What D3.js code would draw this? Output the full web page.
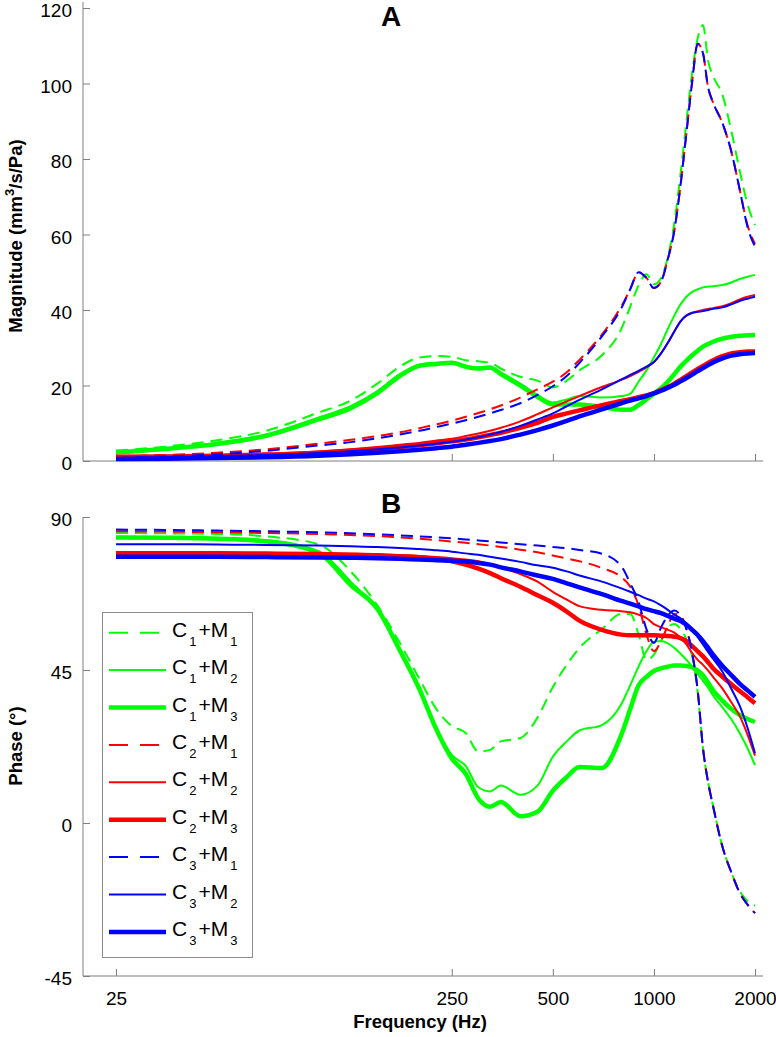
<!DOCTYPE html>
<html>
<head>
<meta charset="utf-8">
<script src="https://cdn.jsdelivr.net/npm/d3@7"></script>
<style>
body { margin: 0; background: #fff; }
text { font-family: "Liberation Sans", Arial, Helvetica, sans-serif; }
</style>
</head>
<body>
<svg width="776" height="1037"></svg>
<script>
// frequency grid (Hz)
var freq = [25, 35, 50, 70, 100, 125, 150, 175, 200, 225, 250, 275, 300, 325, 350, 400, 450, 500, 550, 600,
            700, 800, 850, 900, 950, 1000, 1050, 1100, 1150, 1200, 1250, 1300, 1350, 1400, 1450, 1500,
            1600, 1700, 1800, 1900, 2000];

// panel A, magnitude (mm^3/s/Pa)
var magC1M1 = [2.8, 3.8, 5.5, 8.0, 12.8, 16.0, 20.5, 25.0, 27.4, 27.8, 27.6, 26.7, 26.4, 26.0, 24.5, 22.3, 21.3, 19.5, 21.3, 24.0,
               28.0, 35.0, 40.9, 46.5, 49.5, 46.8, 48.5, 54.0, 63.0, 76.0, 90.0, 103.0, 112.0, 115.5, 106.0, 102.0,
               97.0, 87.5, 77.0, 68.0, 62.5];
var magC1M2 = [2.5, 3.4, 4.8, 7.0, 11.5, 14.5, 18.5, 23.0, 25.5, 26.0, 26.2, 25.0, 24.8, 25.0, 23.5, 20.5, 17.5, 15.5, 16.3, 17.2,
               16.8, 17.2, 17.8, 21.0, 24.0, 27.5, 31.0, 35.0, 38.5, 41.5, 43.5, 44.8, 45.5, 46.0, 46.2, 46.3,
               46.6, 47.3, 48.2, 48.8, 49.3];
var magC1M3 = [2.3, 3.2, 4.5, 6.7, 11.0, 14.0, 18.0, 22.5, 25.2, 25.7, 26.0, 25.0, 24.5, 24.8, 23.0, 20.0, 17.0, 15.0, 15.0, 15.0,
               14.3, 13.6, 13.6, 14.8, 16.3, 17.8, 19.3, 21.0, 23.0, 25.0, 26.6, 28.0, 29.2, 30.3, 31.0, 31.6,
               32.4, 32.9, 33.2, 33.3, 33.4];
var magC2M1 = [1.2, 1.6, 2.2, 3.1, 4.6, 5.6, 6.6, 7.6, 8.7, 9.7, 10.7, 11.7, 12.7, 13.7, 14.7, 16.8, 19.0, 21.0, 23.5, 26.8,
               33.5, 41.0, 45.5, 50.0, 48.5, 45.8, 47.5, 53.5, 61.0, 73.0, 87.0, 100.5, 110.5, 108.0, 99.0, 95.0,
               89.5, 82.0, 72.0, 62.5, 57.5];
var magC2M2 = [1.0, 1.2, 1.5, 1.9, 2.5, 3.1, 3.7, 4.3, 4.8, 5.4, 5.9, 6.6, 7.3, 8.0, 8.8, 10.5, 12.4, 14.2, 15.8, 17.2,
               19.6, 21.5, 22.5, 23.6, 24.8, 26.2, 28.5, 31.3, 34.3, 37.0, 38.6, 39.3, 39.7, 40.0, 40.3, 40.5,
               41.0, 41.8, 42.8, 43.5, 44.0];
var magC2M3 = [1.1, 1.2, 1.4, 1.7, 2.2, 2.7, 3.2, 3.7, 4.2, 4.7, 5.2, 5.7, 6.3, 6.9, 7.5, 8.8, 10.1, 11.7, 12.6, 13.4,
               14.8, 15.9, 16.4, 16.9, 17.4, 18.0, 18.8, 19.6, 20.5, 21.5, 22.5, 23.5, 24.4, 25.2, 26.0, 26.7,
               27.8, 28.5, 28.8, 29.0, 29.0];
var magC3M1 = [0.8, 1.2, 1.8, 2.7, 4.1, 5.0, 6.0, 7.0, 8.0, 9.0, 9.9, 10.8, 11.7, 12.6, 13.5, 15.3, 17.5, 19.8, 22.5, 26.0,
               33.0, 40.5, 45.5, 50.0, 48.5, 45.8, 47.5, 53.5, 61.0, 73.0, 87.0, 100.5, 110.5, 108.0, 99.0, 95.0,
               89.5, 82.0, 72.0, 62.0, 56.8];
var magC3M2 = [0.8, 1.0, 1.3, 1.6, 2.1, 2.6, 3.1, 3.6, 4.1, 4.6, 5.1, 5.7, 6.3, 7.0, 7.7, 9.3, 11.0, 12.6, 14.5, 16.2,
               19.0, 21.6, 22.8, 23.9, 25.0, 26.2, 28.5, 31.3, 34.3, 37.0, 38.5, 39.2, 39.5, 39.7, 40.0, 40.3,
               40.7, 41.5, 42.4, 43.0, 43.5];
var magC3M3 = [0.5, 0.6, 0.8, 1.0, 1.4, 1.8, 2.2, 2.6, 3.0, 3.4, 3.8, 4.3, 4.8, 5.3, 5.8, 7.0, 8.2, 9.4, 10.6, 11.8,
               13.7, 15.3, 16.0, 16.6, 17.2, 17.9, 18.6, 19.4, 20.2, 21.1, 22.0, 22.9, 23.8, 24.6, 25.4, 26.1,
               27.2, 27.9, 28.3, 28.5, 28.6];

// panel B, phase (degrees)
var phaC1M1 = [85.3, 85.2, 85.0, 84.3, 82.0, 74.0, 64.0, 53.0, 42.5, 33.5, 28.5, 26.5, 21.0, 21.5, 24.0, 25.0, 31.0, 40.0, 46.5, 51.5,
               57.0, 61.5, 61.5, 55.5, 48.0, 49.5, 53.5, 57.5, 58.5, 57.0, 54.0, 49.0, 38.5, 22.0, 12.0, 5.0,
               -7.0, -14.5, -20.0, -23.0, -24.3];
var phaC1M2 = [84.2, 84.1, 83.9, 83.2, 80.0, 71.0, 62.5, 51.0, 39.0, 27.5, 20.0, 16.8, 10.5, 9.3, 11.0, 8.3, 11.0, 19.5, 24.0, 27.2,
               28.8, 35.0, 40.5, 46.0, 50.5, 53.3, 53.5, 52.8, 51.5, 49.8, 48.0, 46.0, 43.8, 41.8, 39.8, 37.5,
               34.0, 30.5, 26.5, 22.0, 17.0];
var phaC1M3 = [84.0, 83.9, 83.6, 82.8, 79.5, 70.0, 63.0, 50.8, 39.5, 27.5, 19.0, 14.5, 7.2, 4.8, 6.2, 2.0, 3.3, 9.5, 13.5, 16.5,
               16.2, 26.0, 33.5, 40.5, 43.0, 44.7, 45.5, 46.0, 46.3, 46.3, 46.2, 45.8, 44.8, 43.5, 41.3, 39.0,
               36.0, 33.5, 31.8, 30.6, 29.7];
var phaC2M1 = [85.8, 85.7, 85.5, 85.3, 85.0, 84.7, 84.4, 84.0, 83.6, 83.2, 82.8, 82.4, 82.0, 81.6, 81.2, 80.4, 79.6, 78.7, 77.8, 77.0,
               75.0, 72.3, 69.5, 64.0, 55.5, 50.5, 53.5, 58.0, 61.5, 61.0, 57.0, 50.0, 39.0, 22.0, 12.0, 5.0,
               -7.0, -14.5, -20.5, -24.0, -26.5];
var phaC2M2 = [79.7, 79.7, 79.7, 79.6, 79.5, 79.3, 79.1, 78.8, 78.5, 78.2, 77.9, 77.5, 77.0, 76.2, 75.2, 73.2, 71.0, 68.0, 65.7, 63.8,
               62.7, 62.3, 62.0, 61.3, 60.3, 58.5, 57.6, 56.8, 56.0, 54.5, 52.5, 50.0, 48.0, 46.5, 44.8, 43.0,
               39.5, 35.5, 31.5, 26.0, 19.8];
var phaC2M3 = [79.2, 79.2, 79.1, 79.0, 78.9, 78.8, 78.6, 78.4, 78.2, 77.7, 77.0, 76.0, 74.8, 73.5, 72.0, 69.5, 67.0, 64.8, 62.2, 59.5,
               56.8, 55.4, 55.2, 55.2, 55.2, 55.2, 55.1, 55.0, 54.8, 54.4, 53.5, 52.0, 50.5, 49.0, 47.3, 45.5,
               43.0, 40.8, 38.8, 37.0, 35.2];
var phaC3M1 = [86.3, 86.2, 86.0, 85.8, 85.5, 85.2, 84.9, 84.6, 84.3, 84.0, 83.7, 83.4, 83.1, 82.8, 82.5, 82.0, 81.6, 81.2, 80.8, 80.3,
               79.2, 75.5, 70.5, 65.0, 57.0, 53.0, 57.5, 61.0, 62.5, 61.0, 57.0, 50.0, 39.0, 22.0, 12.0, 5.0,
               -7.0, -14.5, -20.5, -24.0, -26.5];
var phaC3M2 = [82.0, 82.0, 81.9, 81.8, 81.6, 81.4, 81.2, 80.9, 80.6, 80.2, 79.8, 79.3, 78.9, 78.3, 77.8, 76.8, 75.8, 75.1, 74.0, 72.8,
               71.0, 69.0, 68.0, 67.0, 66.0, 65.2, 64.0, 62.7, 61.3, 60.2, 58.7, 57.0, 54.7, 52.5, 50.3, 48.3,
               44.5, 39.5, 34.5, 28.0, 20.5];
var phaC3M3 = [78.3, 78.3, 78.3, 78.2, 78.1, 78.0, 77.9, 77.7, 77.5, 77.3, 77.1, 76.9, 76.5, 76.0, 75.2, 74.0, 72.8, 71.8, 70.5, 69.3,
               67.3, 65.3, 64.5, 63.7, 62.9, 62.3, 61.7, 60.9, 60.1, 59.4, 58.3, 56.8, 55.3, 53.5, 51.5, 49.5,
               46.2, 43.5, 41.0, 39.0, 37.1];

var caseIds = ["1", "2", "3"];
var modelIds = ["1", "2", "3"];
var xTicks = [25, 250, 500, 1000, 2000];
var magTicks = [0, 20, 40, 60, 80, 100, 120];
var phaTicks = [-45, 0, 45, 90];

var magnitude = {
  "11": magC1M1, "12": magC1M2, "13": magC1M3,
  "21": magC2M1, "22": magC2M2, "23": magC2M3,
  "31": magC3M1, "32": magC3M2, "33": magC3M3
};
var phase = {
  "11": phaC1M1, "12": phaC1M2, "13": phaC1M3,
  "21": phaC2M1, "22": phaC2M2, "23": phaC2M3,
  "31": phaC3M1, "32": phaC3M2, "33": phaC3M3
};

var caseColor = {"1": "#00ff00", "2": "#ff0000", "3": "#0000ff"};
var modelWidth = {"1": 2, "2": 2, "3": 4.5};
var modelDash = {"1": "12,7", "2": null, "3": null};

var svg = d3.select("svg");
var axisColor = "#7f7f7f";
var plainNum = function(d) { return String(d); };   // hyphen minus like the original

var x = d3.scaleLog().domain([25, 2000]).range([116, 755]);
var yMag = d3.scaleLinear().domain([0, 120]).range([461, 8]);
var yPha = d3.scaleLinear().domain([-45, 90]).range([976, 517]);

function panel(y, ticks, data, yTop, showXLabels, title, titleY) {
  var g = svg.append("g");
  var y0 = y.range()[0];

  // axes lines
  g.append("line").attr("x1", 83).attr("x2", 763).attr("y1", y0).attr("y2", y0)
    .attr("stroke", axisColor);
  g.append("line").attr("x1", 83).attr("x2", 83).attr("y1", yTop).attr("y2", y0)
    .attr("stroke", axisColor);

  var ya = g.append("g").attr("transform", "translate(83,0)")
    .call(d3.axisLeft(y).tickValues(ticks).tickSize(-7).tickSizeOuter(0).tickPadding(11)
      .tickFormat(plainNum));
  ya.select(".domain").remove();
  ya.selectAll(".tick line").attr("stroke", axisColor);
  ya.selectAll(".tick text").attr("font-size", 19).attr("fill", "#000").attr("dy", "0.45em")
    .attr("font-family", "Liberation Sans, Arial, sans-serif");

  var xa = g.append("g").attr("transform", "translate(0," + y0 + ")")
    .call(d3.axisBottom(x).tickValues(xTicks).tickSize(-7).tickSizeOuter(0).tickPadding(16)
      .tickFormat(showXLabels ? plainNum : ""));
  xa.select(".domain").remove();
  xa.selectAll(".tick line").attr("stroke", axisColor);
  xa.selectAll(".tick text").attr("font-size", 19).attr("fill", "#000")
    .attr("font-family", "Liberation Sans, Arial, sans-serif");

  var line = d3.line()
    .x(function(d) { return x(d[0]); })
    .y(function(d) { return y(d[1]); })
    .curve(d3.curveMonotoneX);

  caseIds.forEach(function(c) {
    modelIds.forEach(function(m) {
      var pts = freq.map(function(f, i) { return [f, data[c + m][i]]; });
      g.append("path")
        .attr("d", line(pts))
        .attr("fill", "none")
        .attr("stroke", caseColor[c])
        .attr("stroke-width", modelWidth[m])
        .attr("stroke-dasharray", modelDash[m])
        .attr("stroke-linejoin", "round");
    });
  });

  g.append("text").attr("x", 391).attr("y", titleY).attr("text-anchor", "middle")
    .attr("font-size", 28).attr("font-weight", "bold").text(title);
  return g;
}

panel(yMag, magTicks, magnitude, 2, false, "A", 26);
panel(yPha, phaTicks, phase, 517, true, "B", 513);

// axis titles
var magLabel = svg.append("text")
  .attr("transform", "translate(22,236) rotate(-90)")
  .attr("text-anchor", "middle").attr("font-size", 18.5).attr("font-weight", "bold");
magLabel.append("tspan").text("Magnitude (mm");
magLabel.append("tspan").attr("font-size", 13).attr("dy", -8).text("3");
magLabel.append("tspan").attr("dy", 8).text("/s/Pa)");

svg.append("text")
  .attr("transform", "translate(22,746) rotate(-90)")
  .attr("text-anchor", "middle").attr("font-size", 18.5).attr("font-weight", "bold")
  .text("Phase (\u00b0)");

svg.append("text").attr("x", 420).attr("y", 1028).attr("text-anchor", "middle")
  .attr("font-size", 18.5).attr("font-weight", "bold").text("Frequency (Hz)");

// legend
var lg = svg.append("g");
lg.append("rect").attr("x", 102.5).attr("y", 612.5).attr("width", 150).attr("height", 345)
  .attr("fill", "#fff").attr("stroke", "#8c8c8c");

var row = 0;
caseIds.forEach(function(c) {
  modelIds.forEach(function(m) {
    var ly = 632.7 + row * 37.4;
    lg.append("line").attr("x1", 109).attr("x2", 166).attr("y1", ly).attr("y2", ly)
      .attr("stroke", caseColor[c]).attr("stroke-width", modelWidth[m] === 2 ? 2 : 4.5)
      .attr("stroke-dasharray", modelDash[m] ? "19,12" : null);
    var t = lg.append("text").attr("x", 172).attr("y", ly + 4).attr("font-size", 21);
    t.append("tspan").text("C");
    t.append("tspan").attr("font-size", 13).attr("dx", 2).attr("dy", 9).text(c);
    t.append("tspan").attr("dx", 2).attr("dy", -9).text("+M");
    t.append("tspan").attr("font-size", 13).attr("dx", 2).attr("dy", 9).text(m);
    row++;
  });
});
</script>
</body>
</html>
